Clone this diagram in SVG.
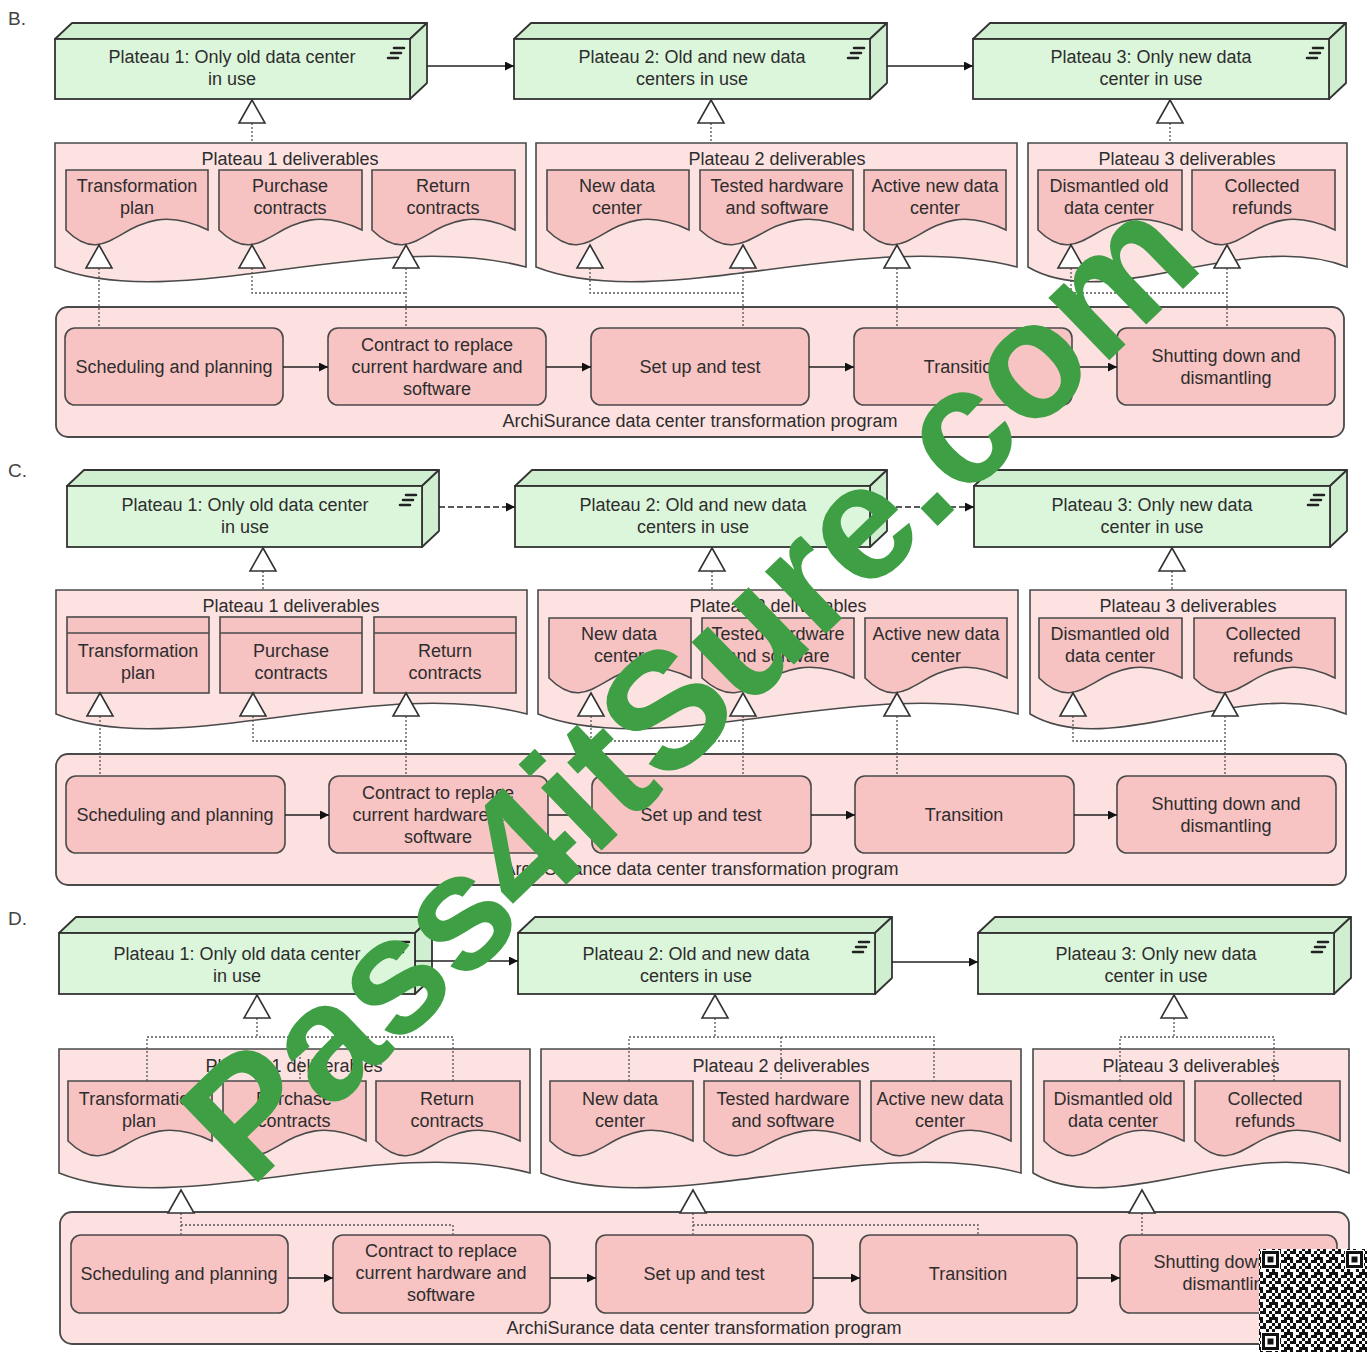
<svg xmlns="http://www.w3.org/2000/svg" width="1367" height="1352" viewBox="0 0 1367 1352">
<defs>
<style>
text{font-family:"Liberation Sans",Arial,sans-serif;font-size:18px;fill:#2d2d2d}
.c{text-anchor:middle}
.pf{fill:#dcf6dc;stroke:#333;stroke-width:1.8}
.pt{fill:#d0eed0;stroke:#333;stroke-width:1.8;stroke-linejoin:round}
.ic{fill:none;stroke:#222;stroke-width:2.6;stroke-linecap:round}
.grp{fill:#fde2e2;stroke:#4a4a4a;stroke-width:1.6}
.del{fill:#f7c2c2;stroke:#4a4a4a;stroke-width:1.6}
.prg{fill:#fde0e0;stroke:#4a4a4a;stroke-width:1.8}
.wp{fill:#f8c3c3;stroke:#4a4a4a;stroke-width:1.6}
.fl{fill:none;stroke:#222;stroke-width:1.6;marker-end:url(#ah)}
.dash{stroke-dasharray:6 3}
.dot{fill:none;stroke:#555;stroke-width:1.3;stroke-dasharray:2 2}
.tri{fill:#fff;stroke:#333;stroke-width:1.6}
.lbl{font-size:19px;fill:#444}
.wm{font-family:"Liberation Sans",Arial,sans-serif;font-weight:bold;font-size:165px;fill:#3f9f45}
</style>
<marker id="ah" viewBox="0 0 10 10" refX="10" refY="5" markerWidth="11" markerHeight="9" markerUnits="userSpaceOnUse" orient="auto"><path d="M0,0 L10,5 L0,10 z" fill="#111"/></marker>
<path id="tri" class="tri" d="M0,0 L-13,23 L13,23 Z"/>
<pattern id="qrp" width="15" height="15" patternUnits="userSpaceOnUse">
<rect width="15" height="15" fill="#fff"/>
<path fill="#111" d="M0,0h3v3h-3zM6,0h6v3h-6zM3,3h3v3h-3zM12,3h3v3h-3zM0,6h6v3h-6zM9,6h3v3h-3zM6,9h3v3h-3zM12,9h3v3h-3zM0,12h3v3h-3zM9,12h6v3h-6z"/>
</pattern>
<g id="finder"><rect width="19" height="19" fill="#fff"/><rect x="1" y="1" width="17" height="17" fill="#111"/><rect x="4" y="4" width="11" height="11" fill="#fff"/><rect x="6.5" y="6.5" width="6" height="6" fill="#111"/></g>
</defs>
<rect width="1367" height="1352" fill="#fff"/>

<!-- ================= B ================= -->
<text class="lbl" x="8" y="25">B.</text>
<g id="b-plateau1">
<polygon class="pt" points="55,39 72,23 427,23 410,39"/><polygon class="pt" points="410,39 427,23 427,83 410,99"/>
<rect class="pf" x="55" y="39" width="355" height="60"/><path class="ic" d="M394,48h10M391,53h10M388,58h10"/>
<text class="c" x="232" y="63">Plateau 1: Only old data center</text><text class="c" x="232" y="85">in use</text>
</g>
<g id="b-plateau2">
<polygon class="pt" points="514,39 531,23 887,23 870,39"/><polygon class="pt" points="870,39 887,23 887,83 870,99"/>
<rect class="pf" x="514" y="39" width="356" height="60"/><path class="ic" d="M854,48h10M851,53h10M848,58h10"/>
<text class="c" x="692" y="63">Plateau 2: Old and new data</text><text class="c" x="692" y="85">centers in use</text>
</g>
<g id="b-plateau3">
<polygon class="pt" points="973,39 990,23 1346,23 1329,39"/><polygon class="pt" points="1329,39 1346,23 1346,83 1329,99"/>
<rect class="pf" x="973" y="39" width="356" height="60"/><path class="ic" d="M1313,48h10M1310,53h10M1307,58h10"/>
<text class="c" x="1151" y="63">Plateau 3: Only new data</text><text class="c" x="1151" y="85">center in use</text>
</g>
<g id="b-group1"><path class="grp" d="M55,143H526V267c-151,-40 -351,48 -471,0Z"/><text class="c" x="290" y="165">Plateau 1 deliverables</text></g>
<g id="b-group2"><path class="grp" d="M536,143H1017V267c-154,-40 -358,48 -481,0Z"/><text class="c" x="777" y="165">Plateau 2 deliverables</text></g>
<g id="b-group3"><path class="grp" d="M1028,143H1347V267c-102,-40 -238,48 -319,0Z"/><text class="c" x="1187" y="165">Plateau 3 deliverables</text></g>
<g id="b-d1"><path class="del" d="M66,170h142v60c-82,-40 -94,48 -142,0z"/><text class="c" x="137" y="192">Transformation</text><text class="c" x="137" y="214">plan</text></g>
<g id="b-d2"><path class="del" d="M219,170h143v60c-83,-40 -94,48 -143,0z"/><text class="c" x="290" y="192">Purchase</text><text class="c" x="290" y="214">contracts</text></g>
<g id="b-d3"><path class="del" d="M372,170h143v60c-83,-40 -94,48 -143,0z"/><text class="c" x="443" y="192">Return</text><text class="c" x="443" y="214">contracts</text></g>
<g id="b-d4"><path class="del" d="M547,170h142v60c-82,-40 -94,48 -142,0z"/><text class="c" x="617" y="192">New data</text><text class="c" x="617" y="214">center</text></g>
<g id="b-d5"><path class="del" d="M700,170h153v60c-89,-40 -101,48 -153,0z"/><text class="c" x="777" y="192">Tested hardware</text><text class="c" x="777" y="214">and software</text></g>
<g id="b-d6"><path class="del" d="M864,170h142v60c-82,-40 -94,48 -142,0z"/><text class="c" x="935" y="192">Active new data</text><text class="c" x="935" y="214">center</text></g>
<g id="b-d7"><path class="del" d="M1038,170h144v60c-84,-40 -95,48 -144,0z"/><text class="c" x="1109" y="192">Dismantled old</text><text class="c" x="1109" y="214">data center</text></g>
<g id="b-d8"><path class="del" d="M1192,170h143v60c-83,-40 -94,48 -143,0z"/><text class="c" x="1262" y="192">Collected</text><text class="c" x="1262" y="214">refunds</text></g>
<g id="b-program"><rect class="prg" x="56" y="307" width="1288" height="130" rx="12"/><text class="c" x="700" y="427">ArchiSurance data center transformation program</text></g>
<g id="b-wp1"><rect class="wp" x="65" y="328" width="218" height="77" rx="10"/><text class="c" x="174" y="373">Scheduling and planning</text></g>
<g id="b-wp2"><rect class="wp" x="328" y="328" width="218" height="77" rx="10"/><text class="c" x="437" y="351">Contract to replace</text><text class="c" x="437" y="373">current hardware and</text><text class="c" x="437" y="395">software</text></g>
<g id="b-wp3"><rect class="wp" x="591" y="328" width="218" height="77" rx="10"/><text class="c" x="700" y="373">Set up and test</text></g>
<g id="b-wp4"><rect class="wp" x="854" y="328" width="218" height="77" rx="10"/><text class="c" x="963" y="373">Transition</text></g>
<g id="b-wp5"><rect class="wp" x="1117" y="328" width="218" height="77" rx="10"/><text class="c" x="1226" y="362">Shutting down and</text><text class="c" x="1226" y="384">dismantling</text></g>

<!-- ================= C ================= -->
<text class="lbl" x="8" y="477">C.</text>
<g id="c-plateau1">
<polygon class="pt" points="67,486 84,470 439,470 422,486"/><polygon class="pt" points="422,486 439,470 439,531 422,547"/>
<rect class="pf" x="67" y="486" width="355" height="61"/><path class="ic" d="M406,495h10M403,500h10M400,505h10"/>
<text class="c" x="245" y="511">Plateau 1: Only old data center</text><text class="c" x="245" y="533">in use</text>
</g>
<g id="c-plateau2">
<polygon class="pt" points="515,486 532,470 887,470 870,486"/><polygon class="pt" points="870,486 887,470 887,531 870,547"/>
<rect class="pf" x="515" y="486" width="355" height="61"/><path class="ic" d="M854,495h10M851,500h10M848,505h10"/>
<text class="c" x="693" y="511">Plateau 2: Old and new data</text><text class="c" x="693" y="533">centers in use</text>
</g>
<g id="c-plateau3">
<polygon class="pt" points="974,486 991,470 1347,470 1330,486"/><polygon class="pt" points="1330,486 1347,470 1347,531 1330,547"/>
<rect class="pf" x="974" y="486" width="356" height="61"/><path class="ic" d="M1314,495h10M1311,500h10M1308,505h10"/>
<text class="c" x="1152" y="511">Plateau 3: Only new data</text><text class="c" x="1152" y="533">center in use</text>
</g>
<g id="c-group1"><path class="grp" d="M56,590H527V714c-151,-40 -351,48 -471,0Z"/><text class="c" x="291" y="612">Plateau 1 deliverables</text></g>
<g id="c-group2"><path class="grp" d="M538,590H1018V714c-154,-40 -358,48 -480,0Z"/><text class="c" x="778" y="612">Plateau 2 deliverables</text></g>
<g id="c-group3"><path class="grp" d="M1030,590H1346V714c-101,-40 -235,48 -316,0Z"/><text class="c" x="1188" y="612">Plateau 3 deliverables</text></g>
<g id="c-d1"><rect class="del" x="67" y="617" width="142" height="76"/><line class="del" x1="67" y1="633" x2="209" y2="633"/><text class="c" x="138" y="657">Transformation</text><text class="c" x="138" y="679">plan</text></g>
<g id="c-d2"><rect class="del" x="220" y="617" width="142" height="76"/><line class="del" x1="220" y1="633" x2="362" y2="633"/><text class="c" x="291" y="657">Purchase</text><text class="c" x="291" y="679">contracts</text></g>
<g id="c-d3"><rect class="del" x="374" y="617" width="142" height="76"/><line class="del" x1="374" y1="633" x2="516" y2="633"/><text class="c" x="445" y="657">Return</text><text class="c" x="445" y="679">contracts</text></g>
<g id="c-d4"><path class="del" d="M549,618h142v60c-82,-40 -94,48 -142,0z"/><text class="c" x="619" y="640">New data</text><text class="c" x="619" y="662">center</text></g>
<g id="c-d5"><path class="del" d="M702,618h152v60c-88,-40 -100,48 -152,0z"/><text class="c" x="778" y="640">Tested hardware</text><text class="c" x="778" y="662">and software</text></g>
<g id="c-d6"><path class="del" d="M865,618h142v60c-82,-40 -94,48 -142,0z"/><text class="c" x="936" y="640">Active new data</text><text class="c" x="936" y="662">center</text></g>
<g id="c-d7"><path class="del" d="M1039,618h143v60c-83,-40 -94,48 -143,0z"/><text class="c" x="1110" y="640">Dismantled old</text><text class="c" x="1110" y="662">data center</text></g>
<g id="c-d8"><path class="del" d="M1194,618h141v60c-82,-40 -93,48 -141,0z"/><text class="c" x="1263" y="640">Collected</text><text class="c" x="1263" y="662">refunds</text></g>
<g id="c-program"><rect class="prg" x="56" y="754" width="1290" height="131" rx="12"/><text class="c" x="701" y="875">ArchiSurance data center transformation program</text></g>
<g id="c-wp1"><rect class="wp" x="66" y="776" width="219" height="77" rx="10"/><text class="c" x="175" y="821">Scheduling and planning</text></g>
<g id="c-wp2"><rect class="wp" x="329" y="776" width="219" height="77" rx="10"/><text class="c" x="438" y="799">Contract to replace</text><text class="c" x="438" y="821">current hardware and</text><text class="c" x="438" y="843">software</text></g>
<g id="c-wp3"><rect class="wp" x="592" y="776" width="219" height="77" rx="10"/><text class="c" x="701" y="821">Set up and test</text></g>
<g id="c-wp4"><rect class="wp" x="855" y="776" width="219" height="77" rx="10"/><text class="c" x="964" y="821">Transition</text></g>
<g id="c-wp5"><rect class="wp" x="1117" y="776" width="219" height="77" rx="10"/><text class="c" x="1226" y="810">Shutting down and</text><text class="c" x="1226" y="832">dismantling</text></g>

<!-- ================= D ================= -->
<text class="lbl" x="8" y="925">D.</text>
<g id="d-plateau1">
<polygon class="pt" points="59,933 76,917 432,917 415,933"/><polygon class="pt" points="415,933 432,917 432,978 415,994"/>
<rect class="pf" x="59" y="933" width="356" height="61"/><path class="ic" d="M399,942h10M396,947h10M393,952h10"/>
<text class="c" x="237" y="960">Plateau 1: Only old data center</text><text class="c" x="237" y="982">in use</text>
</g>
<g id="d-plateau2">
<polygon class="pt" points="518,933 535,917 892,917 875,933"/><polygon class="pt" points="875,933 892,917 892,978 875,994"/>
<rect class="pf" x="518" y="933" width="357" height="61"/><path class="ic" d="M859,942h10M856,947h10M853,952h10"/>
<text class="c" x="696" y="960">Plateau 2: Old and new data</text><text class="c" x="696" y="982">centers in use</text>
</g>
<g id="d-plateau3">
<polygon class="pt" points="978,933 995,917 1351,917 1334,933"/><polygon class="pt" points="1334,933 1351,917 1351,978 1334,994"/>
<rect class="pf" x="978" y="933" width="356" height="61"/><path class="ic" d="M1318,942h10M1315,947h10M1312,952h10"/>
<text class="c" x="1156" y="960">Plateau 3: Only new data</text><text class="c" x="1156" y="982">center in use</text>
</g>
<g id="d-group1"><path class="grp" d="M59,1049H530V1173c-151,-40 -351,48 -471,0Z"/><text class="c" x="294" y="1072">Plateau 1 deliverables</text></g>
<g id="d-group2"><path class="grp" d="M541,1049H1021V1173c-154,-40 -358,48 -480,0Z"/><text class="c" x="781" y="1072">Plateau 2 deliverables</text></g>
<g id="d-group3"><path class="grp" d="M1033,1049H1349V1173c-101,-40 -235,48 -316,0Z"/><text class="c" x="1191" y="1072">Plateau 3 deliverables</text></g>
<g id="d-d1"><path class="del" d="M68,1081h144v60c-84,-40 -95,48 -144,0z"/><text class="c" x="139" y="1105">Transformation</text><text class="c" x="139" y="1127">plan</text></g>
<g id="d-d2"><path class="del" d="M223,1081h143v60c-83,-40 -94,48 -143,0z"/><text class="c" x="294" y="1105">Purchase</text><text class="c" x="294" y="1127">contracts</text></g>
<g id="d-d3"><path class="del" d="M376,1081h144v60c-84,-40 -95,48 -144,0z"/><text class="c" x="447" y="1105">Return</text><text class="c" x="447" y="1127">contracts</text></g>
<g id="d-d4"><path class="del" d="M550,1081h143v60c-83,-40 -94,48 -143,0z"/><text class="c" x="620" y="1105">New data</text><text class="c" x="620" y="1127">center</text></g>
<g id="d-d5"><path class="del" d="M704,1081h156v60c-90,-40 -103,48 -156,0z"/><text class="c" x="783" y="1105">Tested hardware</text><text class="c" x="783" y="1127">and software</text></g>
<g id="d-d6"><path class="del" d="M871,1081h140v60c-81,-40 -92,48 -140,0z"/><text class="c" x="940" y="1105">Active new data</text><text class="c" x="940" y="1127">center</text></g>
<g id="d-d7"><path class="del" d="M1044,1081h140v60c-81,-40 -92,48 -140,0z"/><text class="c" x="1113" y="1105">Dismantled old</text><text class="c" x="1113" y="1127">data center</text></g>
<g id="d-d8"><path class="del" d="M1195,1081h145v60c-84,-40 -96,48 -145,0z"/><text class="c" x="1265" y="1105">Collected</text><text class="c" x="1265" y="1127">refunds</text></g>
<g id="d-program"><rect class="prg" x="60" y="1212" width="1289" height="132" rx="12"/><text class="c" x="704" y="1334">ArchiSurance data center transformation program</text></g>
<g id="d-wp1"><rect class="wp" x="71" y="1235" width="217" height="78" rx="10"/><text class="c" x="179" y="1280">Scheduling and planning</text></g>
<g id="d-wp2"><rect class="wp" x="333" y="1235" width="217" height="78" rx="10"/><text class="c" x="441" y="1257">Contract to replace</text><text class="c" x="441" y="1279">current hardware and</text><text class="c" x="441" y="1301">software</text></g>
<g id="d-wp3"><rect class="wp" x="596" y="1235" width="217" height="78" rx="10"/><text class="c" x="704" y="1280">Set up and test</text></g>
<g id="d-wp4"><rect class="wp" x="860" y="1235" width="217" height="78" rx="10"/><text class="c" x="968" y="1280">Transition</text></g>
<g id="d-wp5"><rect class="wp" x="1120" y="1235" width="217" height="78" rx="10"/><text class="c" x="1228" y="1268">Shutting down and</text><text class="c" x="1228" y="1290">dismantling</text></g>

<!-- ================= connectors ================= -->
<g id="connectors">
<path class="fl" d="M427,66H514"/><path class="fl" d="M887,66H973"/>
<path class="dot" d="M252,123V143M711,123V143M1170,123V143"/>
<use href="#tri" x="252" y="100"/><use href="#tri" x="711" y="100"/><use href="#tri" x="1170" y="100"/>
<path class="dot" d="M99,268V328M406,268V328M252,268V293H406M743,268V328M590,268V293H743M897,268V328M1227,268V328M1071,268V293H1227"/>
<use href="#tri" x="99" y="245"/><use href="#tri" x="252" y="245"/><use href="#tri" x="406" y="245"/><use href="#tri" x="590" y="245"/><use href="#tri" x="743" y="245"/><use href="#tri" x="897" y="245"/><use href="#tri" x="1071" y="245"/><use href="#tri" x="1227" y="245"/>
<path class="fl" d="M283,367H328"/><path class="fl" d="M546,367H591"/><path class="fl" d="M809,367H854"/><path class="fl" d="M1072,367H1117"/>

<path class="fl dash" d="M439,507H515"/><path class="fl dash" d="M887,507H974"/>
<path class="dot" d="M263,571V590M712,571V590M1172,571V590"/>
<use href="#tri" x="263" y="548"/><use href="#tri" x="712" y="548"/><use href="#tri" x="1172" y="548"/>
<path class="dot" d="M100,716V776M406,716V776M253,716V741H406M743,716V776M591,716V741H743M897,716V776M1225,716V776M1073,716V741H1225"/>
<use href="#tri" x="100" y="693"/><use href="#tri" x="253" y="693"/><use href="#tri" x="406" y="693"/><use href="#tri" x="591" y="693"/><use href="#tri" x="743" y="693"/><use href="#tri" x="897" y="693"/><use href="#tri" x="1073" y="693"/><use href="#tri" x="1225" y="693"/>
<path class="fl" d="M285,815H329"/><path class="fl" d="M548,815H592"/><path class="fl" d="M811,815H855"/><path class="fl" d="M1074,815H1117"/>

<path class="fl" d="M415,961H518"/><path class="fl" d="M892,962H978"/>
<path class="dot" d="M257,1018V1037M147,1081V1037H453V1081M300,1037V1081M715,1018V1037M629,1081V1037H934V1081M781,1037V1081M1174,1018V1037M1120,1081V1037H1274V1081"/>
<use href="#tri" x="257" y="995"/><use href="#tri" x="715" y="995"/><use href="#tri" x="1174" y="995"/>
<path class="dot" d="M181,1213V1235M181,1225H453V1235M693,1213V1235M693,1225H978V1235M1142,1213V1235"/>
<use href="#tri" x="181" y="1190"/><use href="#tri" x="693" y="1190"/><use href="#tri" x="1142" y="1190"/>
<path class="fl" d="M288,1278H333"/><path class="fl" d="M550,1278H596"/><path class="fl" d="M813,1278H860"/><path class="fl" d="M1077,1278H1120"/>
</g>

<!-- watermark -->
<text class="wm" x="250" y="1190" transform="rotate(-44 250 1190)">Pass4itSure.com</text>

<!-- QR -->
<g id="qr">
<rect x="1259" y="1249" width="108" height="103" fill="url(#qrp)"/>
<use href="#finder" x="1261" y="1250"/><use href="#finder" x="1345" y="1250"/><use href="#finder" x="1261" y="1332"/>
</g>
</svg>
